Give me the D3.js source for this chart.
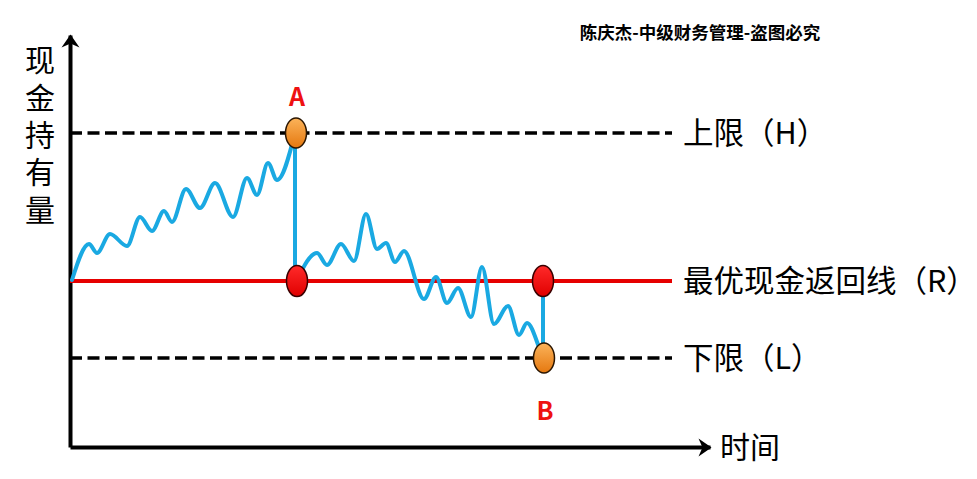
<!DOCTYPE html>
<html>
<head>
<meta charset="utf-8">
<script src="https://cdn.jsdelivr.net/npm/d3@7"></script>
<style>
  body { margin: 0; background: #fff; }
  text { font-family: "Noto Sans CJK SC", "Noto Sans", sans-serif; }
</style>
</head>
<body>
<div class="chart"></div>
<script>
const levelNames = ['上限（H）', '最优现金返回线（R）', '下限（L）'];
const levelValues = [314, 166, 89];
const levelKeys = ['H', 'R', 'L'];

// first stretch: cash climbs from R up to H (point A)
const riseTime = [2, 19, 27, 40, 57, 70, 82, 94, 102, 116, 130, 145, 163, 177, 187, 198, 207, 225];
const riseCash = [167, 203, 194, 213, 201, 230, 216, 236, 225, 258, 239, 264, 230, 269, 252, 284, 267, 314];

// second stretch: from R falls down to L (point B)
const fallTime = [227, 247, 257, 271, 284, 296, 307, 316, 325, 334, 354, 366, 377, 388, 401, 412, 424, 438, 449, 457, 470, 473];
const fallCash = [167, 194, 182, 203, 186, 233, 198, 204, 185, 196, 148, 170, 144, 159, 130, 180, 123, 141, 112, 124, 97, 89];

// the two jumps back to R
const jumpNames = ['A', 'B'];
const jumpTime = [225, 473];
const jumpFrom = [314, 89];
const jumpTo = [166, 166];

const w = 977;
const h = 479;

const xScale = d3.scaleLinear().domain([0, 640]).range([70, 710]);
const yScale = d3.scaleLinear().domain([0, 412]).range([447, 35]);

const svg = d3.select('.chart')
              .append('svg')
              .attr('width', w)
              .attr('height', h);

const defs = svg.append('defs');

defs.append('marker')
    .attr('id', 'arrow')
    .attr('viewBox', '-13 -10 15 20')
    .attr('refX', 0)
    .attr('refY', 0)
    .attr('markerWidth', 15)
    .attr('markerHeight', 20)
    .attr('markerUnits', 'userSpaceOnUse')
    .attr('orient', 'auto')
    .append('path')
    .attr('d', 'M-12,-9 L1,0 L-12,9 L-8,0 Z')
    .attr('fill', '#000');

const orangeGrad = defs.append('linearGradient')
                       .attr('id', 'orange')
                       .attr('x1', 0).attr('y1', 0).attr('x2', 0).attr('y2', 1);
orangeGrad.append('stop').attr('offset', '0%').attr('stop-color', '#fbb35a');
orangeGrad.append('stop').attr('offset', '100%').attr('stop-color', '#e5780f');

const redGrad = defs.append('linearGradient')
                    .attr('id', 'red')
                    .attr('x1', 0).attr('y1', 0).attr('x2', 0).attr('y2', 1);
redGrad.append('stop').attr('offset', '0%').attr('stop-color', '#ff2a2a');
redGrad.append('stop').attr('offset', '100%').attr('stop-color', '#e00000');

// axes without ticks, just the arrowed lines
svg.append('g')
   .attr('transform', `translate(${xScale(0)}, 0)`)
   .call(d3.axisLeft(yScale).ticks(0).tickSizeOuter(0))
   .select('.domain')
   .attr('stroke', '#000')
   .attr('stroke-width', 4)
   .attr('marker-end', 'url(#arrow)');

svg.append('g')
   .attr('transform', `translate(0, ${yScale(0)})`)
   .call(d3.axisBottom(xScale).ticks(0).tickSizeOuter(0))
   .select('.domain')
   .attr('stroke', '#000')
   .attr('stroke-width', 4)
   .attr('marker-end', 'url(#arrow)');

// level lines H / R / L
svg.selectAll('.level')
   .data(levelValues)
   .enter()
   .append('line')
   .attr('class', 'level')
   .attr('x1', xScale(0))
   .attr('x2', xScale(602))
   .attr('y1', d => yScale(d))
   .attr('y2', d => yScale(d))
   .attr('stroke', (d, i) => levelKeys[i] === 'R' ? '#e60000' : '#000')
   .attr('stroke-width', (d, i) => levelKeys[i] === 'R' ? 4 : 3.5)
   .attr('stroke-dasharray', (d, i) => levelKeys[i] === 'R' ? null : '12,5.5');

svg.selectAll('.levelLabel')
   .data(levelValues)
   .enter()
   .append('text')
   .attr('class', 'levelLabel')
   .attr('x', xScale(613))
   .attr('y', d => yScale(d))
   .attr('dy', '0.36em')
   .attr('font-size', 30.5)
   .attr('fill', '#000')
   .text((d, i) => levelNames[i]);

// jump lines
svg.selectAll('.jump')
   .data(jumpTime)
   .enter()
   .append('line')
   .attr('class', 'jump')
   .attr('x1', d => xScale(d))
   .attr('x2', d => xScale(d))
   .attr('y1', (d, i) => yScale(jumpFrom[i]))
   .attr('y2', (d, i) => yScale(jumpTo[i]))
   .attr('stroke', '#1aa9e2')
   .attr('stroke-width', 4);

const line = d3.line()
               .x(d => xScale(d[0]))
               .y(d => yScale(d[1]))
               .curve(d3.curveMonotoneX);

const rise = riseTime.map((t, i) => [t, riseCash[i]]);
const fall = fallTime.map((t, i) => [t, fallCash[i]]);

svg.selectAll('.wave')
   .data([rise, fall])
   .enter()
   .append('path')
   .attr('class', 'wave')
   .attr('d', line)
   .attr('fill', 'none')
   .attr('stroke', '#1aa9e2')
   .attr('stroke-width', 4)
   .attr('stroke-linecap', 'round')
   .attr('stroke-linejoin', 'round');

// dots: red on R, orange at H/L
svg.selectAll('.dotR')
   .data(jumpTime)
   .enter()
   .append('ellipse')
   .attr('class', 'dotR')
   .attr('cx', (d, i) => xScale(i === 0 ? d + 2 : d))
   .attr('cy', (d, i) => yScale(jumpTo[i]))
   .attr('rx', 10.5)
   .attr('ry', 15.5)
   .attr('fill', 'url(#red)')
   .attr('stroke', '#3a0000')
   .attr('stroke-width', 1.5);

svg.selectAll('.dotHL')
   .data(jumpTime)
   .enter()
   .append('ellipse')
   .attr('class', 'dotHL')
   .attr('cx', d => xScale(d + 1))
   .attr('cy', (d, i) => yScale(i === 0 ? levelValues[0] : levelValues[2]))
   .attr('rx', 10.5)
   .attr('ry', 15)
   .attr('fill', 'url(#orange)')
   .attr('stroke', '#2a1500')
   .attr('stroke-width', 1.5);

svg.selectAll('.jumpLabel')
   .data(jumpTime)
   .enter()
   .append('text')
   .attr('class', 'jumpLabel')
   .attr('x', d => xScale(d + 2))
   .attr('y', (d, i) => i === 0 ? yScale(jumpFrom[i]) - 27 : yScale(jumpFrom[i]) + 62)
   .attr('text-anchor', 'middle')
   .attr('font-size', 25)
   .attr('font-weight', 'bold')
   .attr('fill', '#ee1111')
   .text((d, i) => jumpNames[i]);

// axis titles
svg.append('text')
   .attr('x', 40)
   .attr('y', 45)
   .attr('font-size', 30)
   .style('writing-mode', 'vertical-rl')
   .style('letter-spacing', '7.3px')
   .text('现金持有量');

svg.append('text')
   .attr('x', 720)
   .attr('y', yScale(0))
   .attr('dy', '0.36em')
   .attr('font-size', 30)
   .text('时间');

svg.append('text')
   .attr('x', 700)
   .attr('y', 33)
   .attr('dy', '0.36em')
   .attr('text-anchor', 'middle')
   .attr('font-size', 17.5)
   .attr('font-weight', 'bold')
   .text('陈庆杰-中级财务管理-盗图必究');
</script>
</body>
</html>
